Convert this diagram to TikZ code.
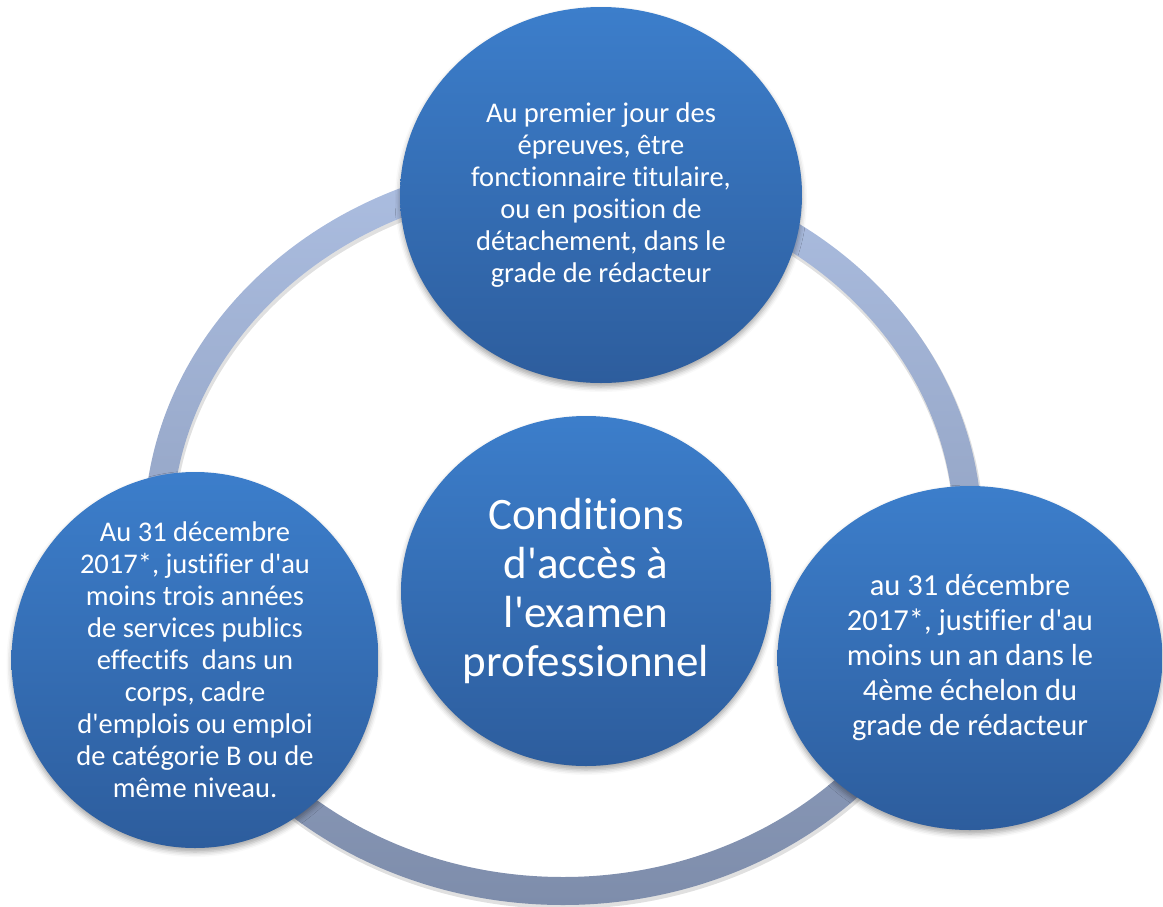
\documentclass[tikz,border=0pt]{standalone}
\usepackage{fontspec}
\setmainfont{Carlito}[Ligatures={TeXOff,NoCommon}]
\usetikzlibrary{shapes.geometric,shadows.blur}

\definecolor{bubbletop}{RGB}{60,126,203}
\definecolor{bubblebot}{RGB}{45,93,157}
\definecolor{ringtop}{RGB}{172,190,225}
\definecolor{ringbot}{RGB}{126,141,171}

\begin{document}
\begin{tikzpicture}[x=1pt, y=-1pt,
    bubble/.style = {ellipse, inner sep=0pt, top color=bubbletop, bottom color=bubblebot,
      blur shadow={shadow xshift=0pt, shadow yshift=-4pt, shadow blur radius=5pt, shadow opacity=35}},
    txt/.style = {text=white, align=center, font=\fontsize{28.5}{32}\selectfont}]
    \useasboundingbox (0,0) rectangle (1163,906);
    % the ring behind the bubbles, with its shadow
    \coordinate (ring) at (563,532);
    \coordinate (ringshadow) at (564,535);
    \fill[black, opacity=0.12, even odd rule]
      (ringshadow) ellipse [x radius=420pt, y radius=374pt]
      (ringshadow) ellipse [x radius=390pt, y radius=344pt];
    \shade[top color=ringtop, bottom color=ringbot, even odd rule]
      (ring) ellipse [x radius=419pt, y radius=373pt]
      (ring) ellipse [x radius=391pt, y radius=345pt];
    % the bubbles
    \node[bubble, minimum width=402pt, minimum height=376pt,
      label={[txt]center:{Au premier jour des\\épreuves, être\\fonctionnaire titulaire,\\ou en position de\\détachement, dans le\\grade de rédacteur}}]
      (1) at (601,195) {};
    \node[bubble, minimum width=367pt, minimum height=376pt,
      label={[txt]center:{Au 31 décembre\\2017*, justifier d'au\\moins trois années\\de services publics\\effectifs\ \ dans un\\corps, cadre\\d'emplois ou emploi\\de catégorie B ou de\\même niveau.}}]
      (2) at (195,660) {};
    \node[bubble, minimum width=385pt, minimum height=344pt,
      label={[txt, font=\fontsize{30.5}{35}\selectfont]center:{au 31 décembre\\2017*, justifier d'au\\moins un an dans le\\4ème échelon du\\grade de rédacteur}}]
      (3) at (970,658) {};
    \node[bubble, minimum width=370pt, minimum height=350pt,
      label={[txt, font=\fontsize{45}{49}\selectfont]center:{Conditions\\d'accès à\\l'examen\\professionnel}}]
      (0) at (586,591) {};
\end{tikzpicture}
\end{document}
